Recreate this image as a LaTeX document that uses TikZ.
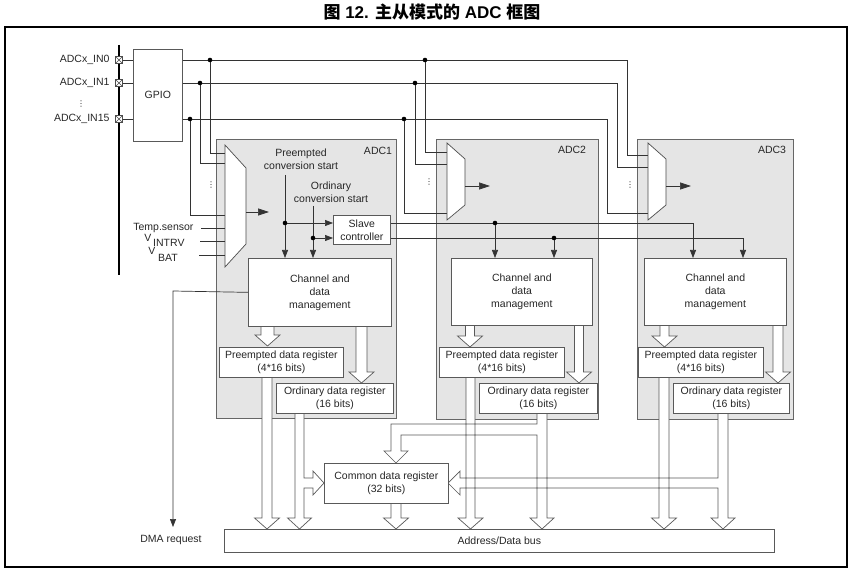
\documentclass[tikz,border=0pt]{standalone}
\usepackage{fontspec}
\setmainfont{Liberation Sans}
\newfontfamily\cjk{Noto Sans CJK SC}
\newfontfamily\dvs{DejaVu Sans}
\usetikzlibrary{arrows.meta}
% block arrow pointing down: x centre, y top, y tip, shaft half width
\newcommand\blkdn[4]{(#1-#4,#2) -- (#1-#4,#3-11) -- (#1-12.5,#3-11) -- (#1,#3) -- (#1+12.5,#3-11) -- (#1+#4,#3-11) -- (#1+#4,#2)}
\newcommand\blkpaths{%
  \blkdn{267.5}{326}{346}{6.5}
  \blkdn{361.5}{326}{383}{5.5}
  \blkdn{267}{377}{529}{5}
  \blkdn{396}{503}{529}{5}
  \blkdn{470}{325}{347}{4.5}
  \blkdn{579}{325}{383}{4.5}
  \blkdn{470.5}{377}{529}{4.5}
  \blkdn{664.5}{325}{347}{4.5}
  \blkdn{778}{325}{383}{5}
  \blkdn{664}{377}{529}{5}
  (295,413)--(295,518)--(287.5,518)--(299.5,529)--(311.5,518)--(304,518)--(304,488)--(313,488)--(313,495)--(324,483)--(313,471)--(313,478)--(304,478)--(304,413)
  (537,413)--(537,424)--(391,424)--(391,451)--(384,451)--(396,463)--(408,451)--(401,451)--(401,435)--(537,435)--(537,518)--(530,518)--(542,529)--(554,518)--(547,518)--(547,413)
  (718,413)--(718,478)--(460,478)--(460,471)--(448,483)--(460,495)--(460,488)--(718,488)--(718,518)--(711,518)--(723,529)--(735,518)--(728,518)--(728,413)
}
\begin{document}
\begin{tikzpicture}[x=1pt,y=-1pt,
  every node/.style={font=\fontsize{10.5}{13}\selectfont, text=black!85},
  ln/.style={draw=black!80, line width=0.7pt},
  box/.style={draw=black!65, fill=white, line width=0.7pt, inner sep=0pt, align=center, anchor=north west},
  adcbox/.style={draw=black!60, fill=black!10, line width=0.8pt, inner sep=0pt, anchor=north west},
  arr/.style={-{Triangle[length=8pt,width=6pt]}},
  bigarr/.style={-{Triangle[length=11pt,width=7pt]}},
  blk/.style={draw=black!65, line width=0.7pt},
  muxs/.style={draw=black!70, fill=white, line width=0.7pt},
  pinsq/.style={draw=black!70, fill=white, line width=0.5pt, minimum size=7pt, inner sep=0pt},
  vdots/.style={font=\dvs\fontsize{8}{8}\selectfont, inner sep=0pt},
  tight/.style={inner sep=0pt},
]
\useasboundingbox (0,0) rectangle (852,572);
% title
\node[font=\fontsize{17}{19}\selectfont\bfseries, text=black] (title) at (432,12) {{\cjk 图} 12. {\cjk 主从模式的} ADC {\cjk 框图}};
% frame
\draw[line width=1.2pt] (5,27) rectangle (847,567);

% ADC containers
\node[adcbox, minimum width=180, minimum height=279] (adc1) at (216,139) {};
\node[adcbox, minimum width=162, minimum height=280] (adc2) at (436,139) {};
\node[adcbox, minimum width=156, minimum height=280] (adc3) at (637,139) {};
\node (adc1l) at (378,151) {ADC1};
\node (adc2l) at (572,150) {ADC2};
\node (adc3l) at (772,150) {ADC3};

% block arrows: fills then outlines
\fill[white] \blkpaths;
\draw[blk] \blkpaths;

% boxes
\node[box, minimum width=49, minimum height=92] (gpio) at (133,49) {GPIO};
\node[box, minimum width=143, minimum height=68] (ch1) at (248,258) {Channel and\\data\\management};
\node[box, minimum width=141, minimum height=67] (ch2) at (451,258) {Channel and\\data\\management};
\node[box, minimum width=142, minimum height=67] (ch3) at (644,258) {Channel and\\data\\management};
\node[box, minimum width=124, minimum height=30] (pr1) at (219,347) {Preempted data register\\(4*16 bits)};
\node[box, minimum width=125, minimum height=30] (pr2) at (439,347) {Preempted data register\\(4*16 bits)};
\node[box, minimum width=125, minimum height=30] (pr3) at (638,347) {Preempted data register\\(4*16 bits)};
\node[box, minimum width=117, minimum height=30] (or1) at (276,383) {Ordinary data register\\(16 bits)};
\node[box, minimum width=118, minimum height=30] (or2) at (479,383) {Ordinary data register\\(16 bits)};
\node[box, minimum width=116, minimum height=30] (or3) at (673,383) {Ordinary data register\\(16 bits)};
\node[box, minimum width=124, minimum height=40] (cdr) at (324,463) {Common data register\\(32 bits)};
\node[box, minimum width=550, minimum height=23] (bus) at (224,529) {Address/Data bus};
\node[box, minimum width=57, minimum height=29] (slave) at (333,215) {Slave\\controller};

% left bus line and pins
\draw[line width=1.2pt] (119,45) -- (119,275);
\node[pinsq] (p0) at (119,60) {};
\node[pinsq] (p1) at (119,83) {};
\node[pinsq] (p15) at (119,119) {};
\foreach \p in {p0,p1,p15}{
  \draw[line width=0.5pt, draw=black!70] (\p.north west) -- (\p.south east) (\p.north east) -- (\p.south west);
  \draw[ln] (\p.east) -- (\p.east -| gpio.west);
}
\node[anchor=east] (l0) at (113,60) {ADCx\_IN0};
\node[anchor=east] (l1) at (113,83) {ADCx\_IN1};
\node[anchor=east] (l15) at (113,119) {ADCx\_IN15};
\node[vdots] (vd0) at (81,104) {⋮};

% GPIO output lines to the three multiplexers
\coordinate (t0) at (627,60);  \coordinate (m3a) at (648,155);
\coordinate (t1) at (617,83);  \coordinate (m3b) at (648,167);
\coordinate (t15) at (607,119); \coordinate (m3c) at (648,213);
\draw[ln] (gpio.east |- p0) -- (t0) |- (m3a);
\draw[ln] (gpio.east |- p1) -- (t1) |- (m3b);
\draw[ln] (gpio.east |- p15) -- (t15) |- (m3c);
\coordinate (d10) at (210,60);  \coordinate (m1a) at (225,153);
\coordinate (d11) at (200,83);  \coordinate (m1b) at (225,163);
\coordinate (d115) at (190,119); \coordinate (m1c) at (225,215);
\coordinate (d20) at (425,60);  \coordinate (m2a) at (447,152);
\coordinate (d21) at (415,83);  \coordinate (m2b) at (447,164);
\coordinate (d215) at (404,119); \coordinate (m2c) at (447,213);
\foreach \d/\m in {d10/m1a,d11/m1b,d115/m1c,d20/m2a,d21/m2b,d215/m2c}{
  \draw[ln] (\d) |- (\m);
  \fill (\d) circle (2.3);
}
\node[vdots] (vd1) at (211,185) {⋮};
\node[vdots] (vd2) at (429,182) {⋮};
\node[vdots] (vd3) at (630,185) {⋮};

% multiplexers
\draw[muxs] (225,145) -- (246,168) -- (246,244) -- (225,267) -- cycle;
\draw[muxs] (447,143) -- (465,159) -- (465,205) -- (447,220) -- cycle;
\draw[muxs] (648,143) -- (666,159) -- (666,205) -- (648,220) -- cycle;
\coordinate (mo1) at (246,212); \coordinate (mo1e) at (269,212);
\coordinate (mo2) at (465,186); \coordinate (mo2e) at (490,186);
\coordinate (mo3) at (666,186); \coordinate (mo3e) at (691,186);
\draw[ln, bigarr] (mo1) -- (mo1e);
\draw[ln, bigarr] (mo2) -- (mo2e);
\draw[ln, bigarr] (mo3) -- (mo3e);

% internal inputs
\node[anchor=east] (ts) at (197,228) {Temp.sensor};
\node[tight] (vi) at (148,238) {V};
\node[anchor=west, tight] (vis) at (153,242.5) {INTRV};
\node[tight] (vb) at (152,251) {V};
\node[anchor=west, tight] (vbs) at (158,257.5) {BAT};
\coordinate (ti) at (201,228); \coordinate (tim) at (225,228);
\coordinate (vii) at (200,241); \coordinate (viim) at (225,241);
\coordinate (vbi) at (199,255); \coordinate (vbim) at (225,255);
\draw[ln] (ti) -- (tim);
\draw[ln] (vii) -- (viim);
\draw[ln] (vbi) -- (vbim);

% conversion start signals
\node[align=center] (pcs) at (301,159) {Preempted\\conversion start};
\node[align=center] (ocs) at (331,192.5) {Ordinary\\conversion start};
\coordinate (ps) at (285,175);
\coordinate (os) at (313,206);
\coordinate (dp) at (285,223);
\coordinate (do) at (313,238);
\draw[ln, arr] (ps) -- (ps |- ch1.north);
\draw[ln, arr] (os) -- (os |- ch1.north);
\draw[ln, arr] (dp) -- (dp -| slave.west);
\draw[ln, arr] (do) -- (do -| slave.west);
\fill (dp) circle (2.3);
\fill (do) circle (2.3);

% slave controller outputs
\coordinate (s2a) at (495,223);
\coordinate (s2b) at (554,238);
\coordinate (s3a) at (693,223);
\coordinate (s3b) at (743,238);
\draw[ln, arr] (slave.east |- dp) -- (s3a) -- (s3a |- ch3.north);
\draw[ln, arr] (slave.east |- do) -- (s3b) -- (s3b |- ch3.north);
\draw[ln, arr] (s2a) -- (s2a |- ch2.north);
\draw[ln, arr] (s2b) -- (s2b |- ch2.north);
\fill (s2a) circle (2.3);
\fill (s2b) circle (2.3);

% DMA request
\coordinate (dmac) at (173,291);
\coordinate (dmae) at (173,527);
\draw[ln, arr] (ch1.west) -- (dmac) -- (dmae);
\node (dma) at (171,540) {DMA request};
\end{tikzpicture}
\end{document}
